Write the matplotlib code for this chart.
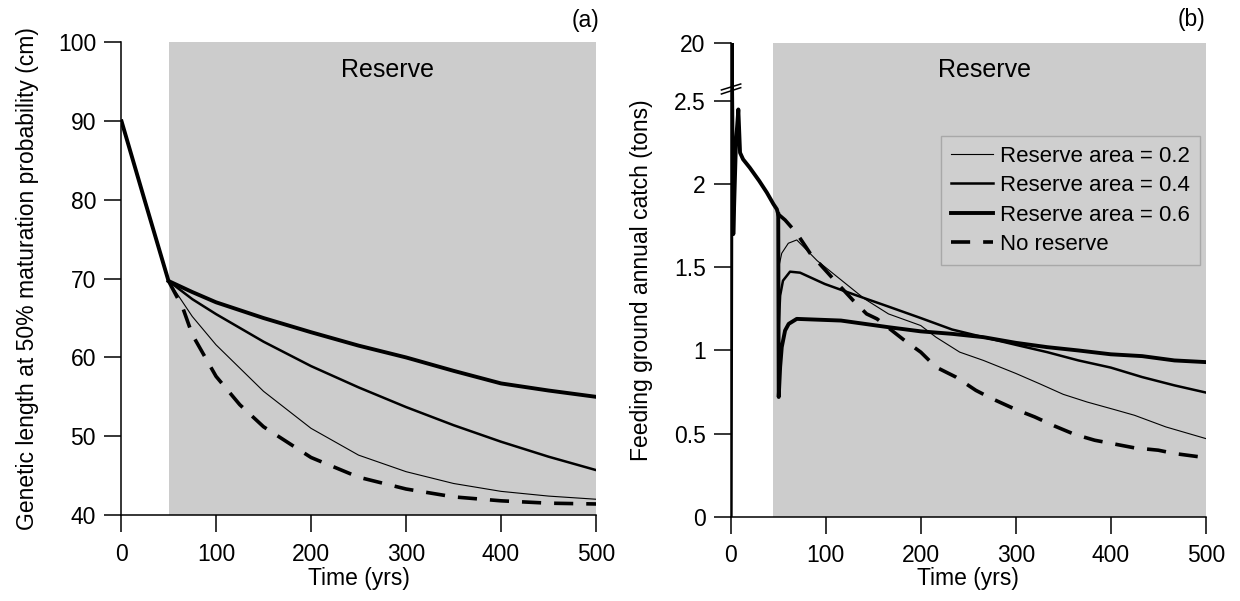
import numpy as np
import matplotlib
matplotlib.use("Agg")
import matplotlib.pyplot as plt
from matplotlib.transforms import blended_transform_factory

plt.rcParams['font.family'] = ['Liberation Sans', 'DejaVu Sans']

# ---------------- Panel (a) data ----------------
a_pre_t = [0, 25, 50]
a_pre_y = [90.2, 79.9, 69.7]

a_t = [50, 75, 100, 150, 200, 250, 300, 350, 400, 450, 500]
a_r02 = [69.7, 65.2, 61.6, 55.7, 51.0, 47.6, 45.5, 44.0, 43.0, 42.4, 42.0]
a_r04 = [69.7, 67.4, 65.5, 62.0, 58.9, 56.2, 53.7, 51.4, 49.3, 47.4, 45.7]
a_r06 = [69.7, 68.3, 67.0, 65.0, 63.2, 61.5, 60.0, 58.3, 56.7, 55.8, 55.0]

a_t_nr = [50, 65, 75, 100, 125, 150, 200, 250, 300, 350, 400, 450, 500]
a_nr = [69.7, 66.3, 62.9, 57.6, 54.0, 51.2, 47.3, 44.8, 43.3, 42.3, 41.8, 41.5, 41.4]

a_xticks = [0, 100, 200, 300, 400, 500]
a_yticks = [40, 50, 60, 70, 80, 90, 100]

# ---------------- Panel (b) data ----------------
b_pre_t = [0, 1, 2.7, 5.5, 8, 9.8, 13, 20, 30, 38, 45, 48.5, 50]
b_pre_y = [0, 20, 1.70, 2.25, 2.45, 2.19, 2.15, 2.10, 2.02, 1.95, 1.88, 1.85, 1.82]

b_t02 = [50, 50.5, 53.7, 60.6, 69.5, 91, 116, 141, 166, 200, 216, 241, 266, 300,
         325, 350, 375, 404, 425, 458, 500]
b_r02 = [1.82, 1.50, 1.585, 1.645, 1.665, 1.54, 1.425, 1.31, 1.22, 1.15, 1.08, 0.99,
         0.94, 0.862, 0.80, 0.736, 0.69, 0.644, 0.61, 0.54, 0.47]

b_t04 = [50, 50.5, 52, 55, 62.4, 73, 99, 133, 166, 200, 233, 266, 300, 333, 366,
         400, 433, 467, 500]
b_r04 = [1.82, 1.15, 1.33, 1.42, 1.474, 1.468, 1.40, 1.33, 1.264, 1.195, 1.126,
         1.08, 1.034, 0.99, 0.94, 0.897, 0.84, 0.79, 0.747]

b_t06 = [50, 50.5, 52, 53.7, 57.2, 61, 69.5, 116, 166, 200, 233, 266, 300, 333,
         366, 400, 433, 467, 500]
b_r06 = [1.82, 0.72, 0.90, 1.02, 1.12, 1.16, 1.19, 1.18, 1.14, 1.115, 1.10, 1.08,
         1.046, 1.02, 1.0, 0.977, 0.966, 0.94, 0.93]

b_tnr = [50, 57.2, 69.5, 83.5, 108, 129, 143, 154, 183, 200, 216, 237, 258, 275,
         300, 320, 341, 362, 383, 404, 425, 450, 467, 500]
b_nr = [1.82, 1.785, 1.705, 1.585, 1.43, 1.30, 1.22, 1.19, 1.06, 0.99, 0.90, 0.84,
        0.76, 0.71, 0.645, 0.60, 0.545, 0.495, 0.46, 0.437, 0.414, 0.40, 0.38, 0.355]

b_xticks = [0, 100, 200, 300, 400, 500]
b_yticks = [0, 0.5, 1, 1.5, 2, 2.5, 20]
b_yticklabels = ["0", "0.5", "1", "1.5", "2", "2.5", "20"]

legend_labels = ["Reserve area = 0.2", "Reserve area = 0.4",
                 "Reserve area = 0.6", "No reserve"]

# ---------------- styles ----------------
GRAY = '#cccccc'
LW = {'r02': 0.8, 'r04': 1.8, 'r06': 2.8, 'nr': 2.6}
DASH = (0, (5.3, 3.6))
FS = 16.5

fig = plt.figure(figsize=(12.4, 6.01), dpi=100)
axa = fig.add_axes([0.0976, 0.1431, 0.3831, 0.7865])
axb = fig.add_axes([0.5893, 0.1403, 0.3831, 0.7882])


def style_axes(ax):
    for s in ['top', 'right']:
        ax.spines[s].set_visible(False)
    for s in ['left', 'bottom']:
        ax.spines[s].set_linewidth(1.1)
    ax.tick_params(axis='both', direction='out', length=12, width=1.1,
                   labelsize=FS)
    ax.tick_params(axis='y', pad=6)
    ax.tick_params(axis='x', pad=8)


# ---- Panel a ----
axa.axvspan(50, 500, color=GRAY, zorder=0, lw=0)
axa.plot(a_pre_t, a_pre_y, color='black', lw=2.8, solid_capstyle='butt')
axa.plot(a_t, a_r02, color='black', lw=LW['r02'])
axa.plot(a_t, a_r04, color='black', lw=LW['r04'])
axa.plot(a_t, a_r06, color='black', lw=LW['r06'])
axa.plot(a_t_nr, a_nr, color='black', lw=LW['nr'], linestyle=DASH)
axa.set_xlim(0, 500)
axa.set_ylim(40, 100)
axa.set_xticks(a_xticks)
axa.set_yticks(a_yticks)
style_axes(axa)
axa.set_xlabel("Time (yrs)", fontsize=FS)
axa.set_ylabel("Genetic length at 50% maturation probability (cm)", fontsize=FS)
axa.xaxis.set_label_coords(0.5, -0.11)
axa.yaxis.set_label_coords(-0.1726, 0.5)
tra = blended_transform_factory(axa.transData, axa.transAxes)
axa.text(280, 0.942, "Reserve", transform=tra, ha='center', va='center', fontsize=18)
axa.text(0.977, 1.047, "(a)", transform=axa.transAxes, ha='center', va='center',
         fontsize=FS)

# ---- Panel b ----
K = 0.02


def fwd(y):
    y = np.asarray(y, dtype=float)
    return np.where(y <= 2.5, y, 2.5 + (y - 2.5) * K)


def inv(y):
    y = np.asarray(y, dtype=float)
    return np.where(y <= 2.5, y, 2.5 + (y - 2.5) / K)


axb.set_yscale('function', functions=(fwd, inv))
axb.axvspan(45, 500, color=GRAY, zorder=0, lw=0)
axb.plot(b_pre_t, b_pre_y, color='black', lw=2.8)
l02, = axb.plot(b_t02, b_r02, color='black', lw=LW['r02'])
l04, = axb.plot(b_t04, b_r04, color='black', lw=LW['r04'])
l06, = axb.plot(b_t06, b_r06, color='black', lw=LW['r06'])
lnr, = axb.plot(b_tnr, b_nr, color='black', lw=LW['nr'], linestyle=DASH)
axb.set_xlim(0, 500)
axb.set_ylim(0, 20)
axb.set_xticks(b_xticks)
axb.set_yticks(b_yticks)
axb.set_yticklabels(b_yticklabels)
axb.minorticks_off()
style_axes(axb)
axb.set_xlabel("Time (yrs)", fontsize=FS)
axb.set_ylabel("Feeding ground annual catch (tons)", fontsize=FS)
axb.xaxis.set_label_coords(0.5, -0.106)
axb.yaxis.set_label_coords(-0.1636, 0.5)
trb = blended_transform_factory(axb.transData, axb.transAxes)
axb.text(267, 0.943, "Reserve", transform=trb, ha='center', va='center', fontsize=18)
axb.text(0.969, 1.0486, "(b)", transform=axb.transAxes, ha='center', va='center',
         fontsize=FS)

# axis break marks
for y0, y1 in [(0.9008, 0.9134), (0.8923, 0.9056)]:
    axb.plot([-0.0196, 0.021], [y0, y1], transform=axb.transAxes, color='black',
             lw=1.1, clip_on=False, zorder=5)

leg = axb.legend([l02, l04, l06, lnr], legend_labels, loc='upper left',
                 bbox_to_anchor=(0.4427, 0.8043), borderaxespad=0, fontsize=16,
                 frameon=True, fancybox=False, handlelength=1.9,
                 handletextpad=0.3, borderpad=0.45, labelspacing=0.38)
leg.get_frame().set_facecolor('#cfcfcf')
leg.get_frame().set_edgecolor('#a8a8a8')
leg.get_frame().set_linewidth(1.0)
leg.get_frame().set_alpha(1)

fig.savefig("out.png", dpi=100)
